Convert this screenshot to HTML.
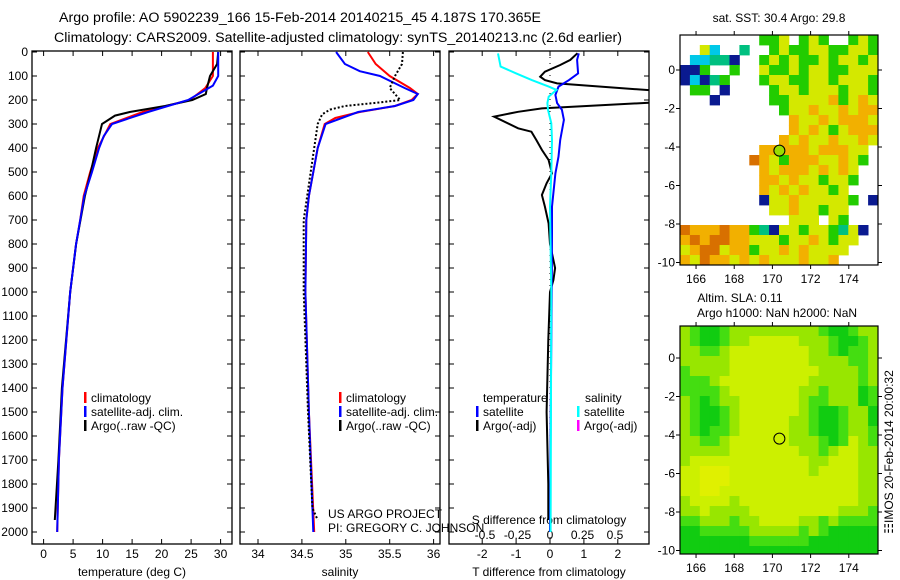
<!DOCTYPE html>
<html><head><meta charset="utf-8"><style>
html,body{margin:0;padding:0;background:#fff;}
svg{display:block;font-family:"Liberation Sans",sans-serif;}
</style></head><body>
<svg id="c" width="900" height="580" viewBox="0 0 900 580" xmlns="http://www.w3.org/2000/svg">
<g font-size="13.5" text-anchor="middle">
<text x="300" y="22" textLength="482" lengthAdjust="spacingAndGlyphs">Argo profile: AO 5902239_166 15-Feb-2014 20140215_45 4.187S 170.365E</text>
<text x="338" y="42" textLength="568" lengthAdjust="spacingAndGlyphs">Climatology: CARS2009. Satellite-adjusted climatology: synTS_20140213.nc (2.6d earlier)</text>
</g>
<g id="plots"></g>
</svg>
<script>
// ---------- data ----------
const depthTicks=[0,100,200,300,400,500,600,700,800,900,1000,1100,1200,1300,1400,1500,1600,1700,1800,1900,2000];
const tempTicks=[0,5,10,15,20,25,30];
const salTicks=[34,34.5,35,35.5,36];
const tdiffTicks=[-2,-1,0,1,2];
const sdiffTicks=[-0.5,-0.25,0,0.25,0.5];
const tempClimDepth=[0,100,150,200,250,300,400,500,600,700,800,1000,1400,1700,2000];
const tempClim=[28.7,28.7,27.4,24.8,16.8,11.3,9.2,7.9,6.8,6.2,5.5,4.5,3.2,2.6,2.3];
const tempSatDepth=[0,100,140,200,250,300,350,400,500,600,700,800,1000,1400,1700,2000];
const tempSat=[29.6,29.6,28.7,24.5,17.7,11.6,10.2,9.4,8.2,6.9,6.2,5.5,4.5,3.2,2.6,2.3];
const tempArgoDepth=[0,50,100,150,175,200,225,250,265,300,400,500,600,800,1000,1400,1700,1950];
const tempArgo=[29.6,29.4,28.2,27.7,27.5,25.2,20.6,14.6,12.1,9.9,8.9,8.0,7.0,5.5,4.5,3.1,2.5,1.9];
const salClimDepth=[0,50,100,150,175,200,225,250,275,300,400,500,600,700,1000,1500,2000];
const salClim=[35.25,35.34,35.50,35.73,35.82,35.75,35.56,35.16,34.88,34.76,34.68,34.63,34.58,34.55,34.54,34.58,34.64];
const salSatDepth=[0,50,80,100,150,175,200,225,250,300,400,500,600,700,1000,1500,2000];
const salSat=[34.89,34.99,35.16,35.39,35.67,35.82,35.77,35.56,35.14,34.77,34.68,34.63,34.58,34.55,34.54,34.58,34.63];
const salArgoDepth=[0,50,100,150,200,210,225,240,260,300,400,500,600,700,1000,1500,1900,1950];
const salArgo=[35.65,35.64,35.56,35.50,35.62,35.39,34.99,34.82,34.73,34.68,34.64,34.60,34.56,34.52,34.52,34.57,34.62,34.68];
const tdArgoDepth=[5,33,54,82,103,117,131,165,207,235,249,269,318,332,367,408,450,506,547,596,644,714,800,900,950,1000,1200,1500,1800,1950];
const tdArgo=[0.81,0.60,0.30,-0.15,-0.29,-0.15,0.21,3.5,3.5,-0.24,-0.94,-1.65,-0.94,-0.55,-0.40,-0.24,-0.04,0.06,-0.10,-0.24,-0.15,-0.04,0,0.15,0.1,0,-0.05,-0.1,-0.05,-0.05];
const tdSatDepth=[6,33,89,117,144,179,213,241,283,367,436,506,644,755,1000,1500,2000];
const tdSat=[0.85,0.80,0.83,0.56,0.25,0.16,0.21,0.35,0.41,0.30,0.25,0.16,0.06,0.06,0.05,0.02,0.0];
const sdSatDepth=[6,33,61,89,117,144,158,186,213,241,297,367,506,644,1000,2000];
const sdSat=[-0.40,-0.39,-0.38,-0.26,-0.14,-0.01,0.05,-0.01,-0.02,-0.015,0.01,0.015,0.01,0,0.01,0.005];
const lonTicks=[166,168,170,172,174];
const latTicks=[0,-2,-4,-6,-8,-10];
const argoLon=170.365, argoLat=-4.187;
const sstGrid=[
"........ggy.gyg..gyg",
"..yc..t..gyggyyggyyg",
".ccttb..gygyggygyygy",
"bbg..g..yggygyyggyyy",
"bcbtg...gyyggyygyyyg",
".gg.b....gyygyyygyyg",
"...b.....ggyyyyogyoy",
"..........gyyoyyoyoo",
"...........oyyoyoooy",
"...........oyoygyooo",
"..........oyoyyoyyoy",
"........oooooyoooyy.",
".......roygoooyyoyg.",
"........oyoooyoyoy..",
"........ooyoyygyyg..",
"........oyoyoyygy...",
"........byyoyyyyyg.b",
".........yyoyygyy...",
"...........yyy.yg...",
"roooroogtbyygyygtyb.",
"ororrooyyygyyoygyy..",
"yorryoogyyoyoyyyy...",
"oyrooyoyoyyyoyyo....",
".yorooyoyoooyyy....."];
const slaGrid=[
"lgGGglllllllllgGGgll",
"lgGGgllyyyyylllgGGgl",
"llgglyyyyyyyyllgGggl",
"lllllyyyyyyyyllllggl",
"gllllyyyyyyyyyllllgl",
"ggglyyyyyyyyylllllgl",
"gggglyyyyyyyllglllGg",
"lgGgllyyyyyylgglllGg",
"lgGGglyyyyyylgGGgllG",
"lgGGglyyyyyllgGGgllG",
"lgGgglyyyyyllgGGgllg",
"llgglyyyyyylllgGgylg",
"lllllyyyyyyyllglyyll",
"lyyyyyyyyyyyyllyyyll",
"yyYYYyyyyyyyylyyyyll",
"yyYYYyyyyyyyyyyyyyll",
"yyYYyyyyyyyyyyyyyyll",
"lyyyylyyyyyyyyyyyyll",
"llyllllyyyyyyyyylllg",
"gglllgllyyyyllglgggg",
"GGggggglllllglgGGGGG",
"GGGGGGGggggggGGGGGGG",
"GGGGGGGGGGGGGGGGGGGG"];
// ---------- helpers ----------
const NS='http://www.w3.org/2000/svg';
const root=document.getElementById('plots');
function mk(tag,attrs,parent){const e=document.createElementNS(NS,tag);for(const k in attrs)e.setAttribute(k,attrs[k]);(parent||root).appendChild(e);return e;}
function txt(s,x,y,attrs,parent){const e=mk('text',Object.assign({x:x,y:y,'font-size':12},attrs||{}),parent);e.textContent=s;return e;}
const TOP=51,BOT=544;
const yD=d=>52+0.24*d;
const P=[{x0:32,x1:232},{x0:240,x1:440},{x0:449,x1:649}];
const xT=t=>43.6+5.9*t;
const xS=s=>258+87.8*(s-34);
const xTD=t=>550+33.9*t;
const xSD=s=>550+130*s;
const defs=mk('defs',{});
P.forEach((p,i)=>{const cp=mk('clipPath',{id:'cp'+i},defs);mk('rect',{x:p.x0,y:TOP,width:p.x1-p.x0,height:BOT-TOP},cp);});
function line(depths,vals,xf,color,clip,name,extra){
  const pts=depths.map((d,i)=>xf(vals[i]).toFixed(1)+','+yD(d).toFixed(1)).join(' ');
  const e=mk('polyline',Object.assign({points:pts,fill:'none',stroke:color,'stroke-width':2,'clip-path':'url(#cp'+clip+')'},extra||{}));
  
  
  return e;
}
function frame(p,i,name){
  const r=mk('rect',{x:p.x0,y:TOP,width:p.x1-p.x0,height:BOT-TOP,fill:'none',stroke:'#000','stroke-width':1.3});
  
  
  depthTicks.forEach(d=>{mk('line',{x1:p.x0,x2:p.x0+5,y1:yD(d),y2:yD(d),stroke:'#000'});mk('line',{x1:p.x1-5,x2:p.x1,y1:yD(d),y2:yD(d),stroke:'#000'});});
}
function xticks(ticks,xf,ly,name){
  const g=mk('g',{});
  
  
  ticks.forEach(t=>{const x=xf(t);mk('line',{x1:x,x2:x,y1:TOP,y2:TOP+5,stroke:'#000'},g);mk('line',{x1:x,x2:x,y1:BOT-5,y2:BOT,stroke:'#000'},g);txt(String(t),x,ly,{'text-anchor':'middle'},g);});
}
const yl=mk('g',{});


depthTicks.forEach(d=>txt(String(d),28,yD(d)+4,{'text-anchor':'end'},yl));
frame(P[0],0,'temperature-panel-frame');
xticks(tempTicks,xT,558,'temperature-x-axis');
txt('temperature (deg C)',132,576,{'text-anchor':'middle'});
line(tempClimDepth,tempClim,xT,'#ff0000',0,'temp-climatology-line');
line(tempArgoDepth,tempArgo,xT,'#000000',0,'temp-argo-line');
line(tempSatDepth,tempSat,xT,'#0000ff',0,'temp-satellite-line');
frame(P[1],1,'salinity-panel-frame');
xticks(salTicks,xS,558,'salinity-x-axis');
txt('salinity',340,576,{'text-anchor':'middle'});
line(salClimDepth,salClim,xS,'#ff0000',1,'sal-climatology-line');
line(salSatDepth,salSat,xS,'#0000ff',1,'sal-satellite-line');
line(salArgoDepth,salArgo,xS,'#000000',1,'sal-argo-line',{'stroke-dasharray':'2,2','stroke-width':2});
frame(P[2],2,'difference-panel-frame');
xticks(tdiffTicks,xTD,558,'tdiff-x-axis');
sdiffTicks.forEach(s=>txt(String(s),xSD(s),539,{'text-anchor':'middle'}));
txt('S difference from climatology',549,524,{'text-anchor':'middle'});
txt('T difference from climatology',549,576,{'text-anchor':'middle'});
mk('line',{x1:550,x2:550,y1:TOP,y2:BOT,stroke:'#000','stroke-dasharray':'1,5'});
line(tdArgoDepth,tdArgo,xTD,'#000000',2,'tdiff-argo-line');
line(tdSatDepth,tdSat,xTD,'#0000ff',2,'tdiff-satellite-line');
line(sdSatDepth,sdSat,xSD,'#00ffff',2,'sdiff-satellite-line');
function leg(x,y,color,label,name){
  const g=mk('g',{});
  
  
  mk('rect',{x:x,y:y-10,width:2.5,height:11,fill:color},g);
  txt(label,x+7,y,{},g);
}
leg(84,402,'#ff0000','climatology','legend-temp-climatology');
leg(84,416,'#0000ff','satellite-adj. clim.','legend-temp-satellite');
leg(84,430,'#000','Argo(..raw -QC)','legend-temp-argo');
leg(339,402,'#ff0000','climatology','legend-sal-climatology');
leg(339,416,'#0000ff','satellite-adj. clim.','legend-sal-satellite');
leg(339,430,'#000','Argo(..raw -QC)','legend-sal-argo');
txt('temperature',483,402);
txt('salinity',585,402);
leg(476,416,'#0000ff','satellite','legend-tdiff-satellite');
leg(476,430,'#000','Argo(-adj)','legend-tdiff-argo');
leg(577,416,'#00ffff','satellite','legend-sdiff-satellite');
leg(577,430,'#ff00ff','Argo(-adj)','legend-sdiff-argo');
txt('US ARGO PROJECT',328,518);
txt('PI: GREGORY C. JOHNSON',328,532);
const MX0=680,MX1=878,LON0=165.16,LON1=175.53;
const mxf=l=>MX0+(l-LON0)*(MX1-MX0)/(LON1-LON0);
const sstCol={g:'#22cc00',y:'#d4e800',o:'#f2b000',r:'#d87000',b:'#0a1a90',c:'#00c8e8',t:'#00c080',l:'#88dd00'};
const slaCol={G:'#11cc11',g:'#44dd11',l:'#98e600',y:'#ccf000',Y:'#e0f000'};
function map(y0,y1,lat0y,grid,cols,name,title,fillCircle){
  const g=mk('g',{});
  
  
  const id='m'+y0;
  const cp=mk('clipPath',{id:id},defs);mk('rect',{x:MX0,y:y0,width:MX1-MX0,height:y1-y0},cp);
  const cg=mk('g',{'clip-path':'url(#'+id+')'},g);
  const cw=(MX1-MX0)/20;
  grid.forEach((row,r)=>{for(let c=0;c<row.length;c++){const col=cols[row[c]];if(!col)continue;
    const cell=mk('rect',{x:(MX0+c*cw).toFixed(1),y:y0+r*10,width:(cw+0.4).toFixed(1),height:10.4,fill:col},cg);
    
    }});
  const latf=l=>lat0y-l*19.25;
  mk('rect',{x:MX0,y:y0,width:MX1-MX0,height:y1-y0,fill:'none',stroke:'#000','stroke-width':1.2},g);
  lonTicks.forEach(l=>{const x=mxf(l);mk('line',{x1:x,x2:x,y1:y1,y2:y1+4,stroke:'#000'},g);mk('line',{x1:x,x2:x,y1:y0-4,y2:y0,stroke:'#000'},g);txt(String(l),x,y1+18,{'text-anchor':'middle'},g);});
  latTicks.forEach(l=>{const y=latf(l);mk('line',{x1:MX0-4,x2:MX0,y1:y,y2:y,stroke:'#000'},g);mk('line',{x1:MX1,x2:MX1+4,y1:y,y2:y,stroke:'#000'},g);txt(String(l),MX0-5,y+4,{'text-anchor':'end'},g);});
  mk('circle',{cx:mxf(argoLon),cy:latf(argoLat),r:5.5,fill:fillCircle,stroke:'#000','stroke-width':1},g);
}
map(35,265,70,sstGrid,sstCol,'sst-map','',"#99dd00");
map(326,554,358,slaGrid,slaCol,'sla-map','',"none");
txt('sat. SST: 30.4 Argo: 29.8',779,22,{'text-anchor':'middle'});
txt('Altim. SLA: 0.11',740,302,{'text-anchor':'middle'});
txt('Argo h1000: NaN h2000: NaN',777,317,{'text-anchor':'middle'});
const ts=txt('\u2637IMOS 20-Feb-2014 20:00:32',0,0,{'text-anchor':'middle',transform:'translate(893,452) rotate(-90)'});


</script>
</body></html>
